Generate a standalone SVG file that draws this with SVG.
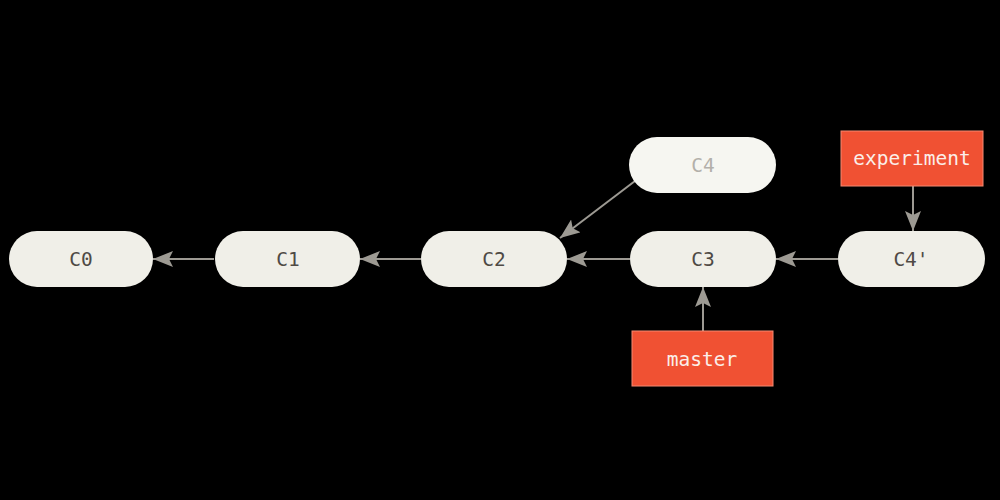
<svg xmlns="http://www.w3.org/2000/svg" width="1000" height="500" viewBox="0 0 1000 500">
<defs>
<style>
.node rect{fill:#f0efe8}
.node text{font-family:"DejaVu Sans Mono","Liberation Mono",monospace;font-size:19.5px;fill:#4f4a45;text-anchor:middle;dominant-baseline:central}
.ghost rect{fill:#f6f6f1}
.ghost text{fill:#b3b0aa}
.ref rect{fill:#f05133;stroke:#f58a72;stroke-width:1}
.ref text{font-family:"DejaVu Sans Mono","Liberation Mono",monospace;font-size:19.5px;fill:#fbeee9;text-anchor:middle;dominant-baseline:central}
.edge{stroke:#9d9a93;stroke-width:2;fill:none;marker-end:url(#ah)}
</style>
<marker id="ah" viewBox="0 0 20 16" refX="20" refY="8" markerWidth="20" markerHeight="16" markerUnits="userSpaceOnUse" orient="auto">
<path d="M0,0 L20,8 L0,16 L4,8 Z" fill="#9d9a93"/>
</marker>
</defs>
<rect width="1000" height="500" fill="#000"/>
<g id="connectors">
<line class="edge" x1="214" y1="259" x2="153" y2="259"/>
<line class="edge" x1="421" y1="259" x2="360" y2="259"/>
<line class="edge" x1="630" y1="259" x2="567" y2="259"/>
<line class="edge" x1="838" y1="259" x2="776" y2="259"/>
<line class="edge" x1="635" y1="181" x2="560" y2="238"/>
<line class="edge" x1="913" y1="186" x2="913" y2="231"/>
<line class="edge" x1="703" y1="331" x2="703" y2="287"/>
</g>
<g id="C0" class="node"><rect x="9" y="231" width="144" height="56" rx="28"/><text x="81" y="259">C0</text></g>
<g id="C1" class="node"><rect x="215" y="231" width="145" height="56" rx="28"/><text x="288" y="259">C1</text></g>
<g id="C2" class="node"><rect x="421" y="231" width="146" height="56" rx="28"/><text x="494" y="259">C2</text></g>
<g id="C3" class="node"><rect x="630" y="231" width="146" height="56" rx="28"/><text x="703" y="259">C3</text></g>
<g id="C4p" class="node"><rect x="838" y="231" width="147" height="56" rx="28"/><text x="911" y="259">C4'</text></g>
<g id="C4" class="node ghost"><rect x="629" y="137" width="147" height="56" rx="28"/><text x="703" y="165">C4</text></g>
<g id="experiment" class="ref"><rect x="841" y="131" width="142" height="55"/><text x="912" y="158">experiment</text></g>
<g id="master" class="ref"><rect x="632" y="331" width="141" height="55"/><text x="702" y="359">master</text></g>
</svg>
